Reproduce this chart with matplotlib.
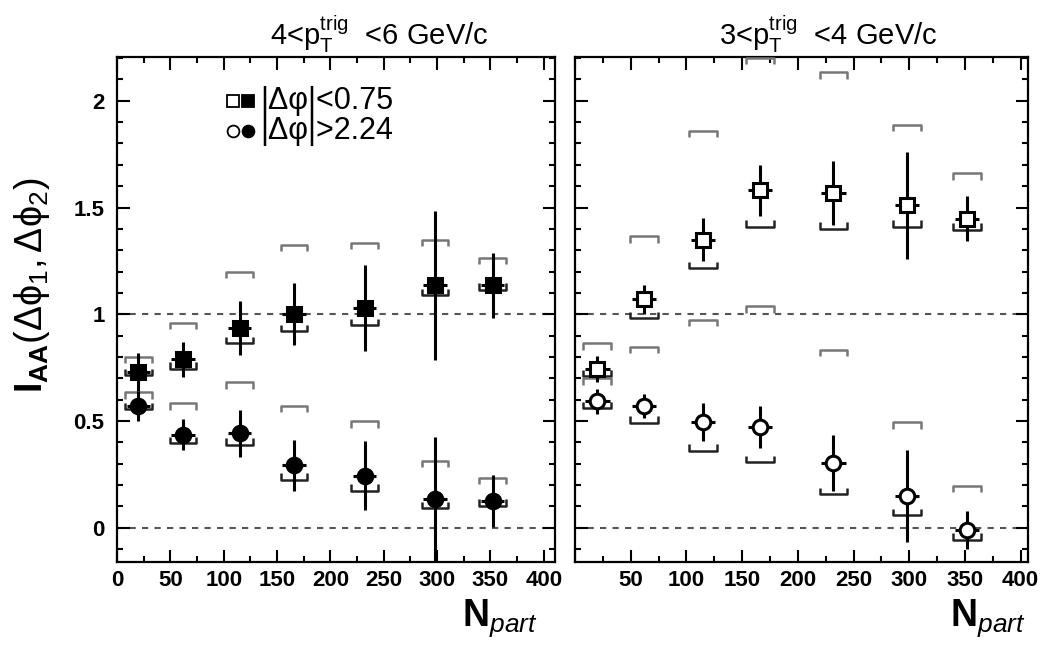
import matplotlib
matplotlib.use("Agg")
import matplotlib.pyplot as plt
from matplotlib.ticker import MultipleLocator

plt.rcParams['font.family'] = ['Liberation Sans', 'DejaVu Sans']
plt.rcParams['mathtext.fontset'] = 'custom'
plt.rcParams['mathtext.rm'] = 'Liberation Sans'
plt.rcParams['mathtext.it'] = 'Liberation Sans:italic'
plt.rcParams['mathtext.bf'] = 'Liberation Sans:bold'

# ---------------- data ----------------
npart = [20, 62, 115, 166, 232, 298, 352]

# left panel: 4 < pT_trig < 6 GeV/c (filled markers)
L_near_y = [0.73, 0.79, 0.935, 1.00, 1.03, 1.135, 1.135]
L_near_stat = [0.09, 0.082, 0.125, 0.145, 0.20, 0.35, 0.15]
L_near_sys_lo = [0.715, 0.745, 0.865, 0.92, 0.95, 1.09, 1.115]
L_near_sys_hi = [0.80, 0.96, 1.20, 1.325, 1.335, 1.35, 1.265]
L_away_y = [0.57, 0.436, 0.443, 0.292, 0.245, 0.134, 0.126]
L_away_stat = [0.07, 0.072, 0.11, 0.12, 0.16, 0.29, 0.12]
L_away_sys_lo = [0.555, 0.397, 0.389, 0.225, 0.173, 0.092, 0.103]
L_away_sys_hi = [0.635, 0.584, 0.682, 0.571, 0.498, 0.315, 0.233]

# right panel: 3 < pT_trig < 4 GeV/c (open markers)
R_near_y = [0.745, 1.07, 1.35, 1.58, 1.568, 1.51, 1.447]
R_near_stat = [0.06, 0.067, 0.10, 0.12, 0.15, 0.25, 0.105]
R_near_sys_lo = [0.71, 0.982, 1.216, 1.411, 1.40, 1.411, 1.396]
R_near_sys_hi = [0.865, 1.365, 1.859, 2.20, 2.133, 1.888, 1.661]
R_away_y = [0.592, 0.571, 0.495, 0.472, 0.303, 0.151, -0.009]
R_away_stat = [0.06, 0.055, 0.09, 0.10, 0.13, 0.215, 0.09]
R_away_sys_lo = [0.561, 0.493, 0.362, 0.306, 0.158, 0.058, -0.056]
R_away_sys_hi = [0.70, 0.849, 0.974, 1.037, 0.834, 0.495, 0.198]

x_ticks = [0, 50, 100, 150, 200, 250, 300, 350, 400]
x_labels_left = ['0', '50', '100', '150', '200', '250', '300', '350', '400']
x_labels_right = ['', '50', '100', '150', '200', '250', '300', '350', '400']
y_ticks = [0, 0.5, 1, 1.5, 2]
y_labels = ['0', '0.5', '1', '1.5', '2']
titles = [r'4<p$_{\mathrm{T}}^{\mathrm{trig}}$  <6 GeV/c',
          r'3<p$_{\mathrm{T}}^{\mathrm{trig}}$  <4 GeV/c']
legend_labels = ['|\u0394\u03c6|<0.75', '|\u0394\u03c6|>2.24']

# ---------------- drawing ----------------
W, H = 1050, 652
fig = plt.figure(figsize=(W / 100, H / 100), dpi=100)
ax1 = fig.add_axes([117 / W, 90 / H, 438 / W, 505 / H])
ax2 = fig.add_axes([575 / W, 90 / H, 453 / W, 505 / H])

tickfont = dict(family=['Liberation Sans Narrow', 'Liberation Sans', 'DejaVu Sans'],
                weight='bold', size=16)

BW = 12.5   # bracket half width (Npart units)
BH = 0.03   # bracket end tick height


def bracket(ax, x, y, up, color, lw=1.8):
    h = BH if up else -BH
    ax.plot([x - BW, x - BW, x + BW, x + BW], [y + h, y, y, y + h],
            color=color, lw=lw, solid_capstyle='butt', zorder=3)


def draw_series(ax, y, stat, lo, hi, marker, filled):
    for xi, l, u in zip(npart, lo, hi):
        bracket(ax, xi, l, True, '#222222')
        bracket(ax, xi, u, False, '#777777')
    ax.errorbar(npart, y, yerr=stat, xerr=11, fmt='none', ecolor='black',
                elinewidth=2.2, capsize=0, zorder=4)
    ax.plot(npart, y, linestyle='none', marker=marker, markersize=10.5,
            markerfacecolor='black' if filled else 'white',
            markeredgecolor='black', markeredgewidth=2.2, zorder=5)


for ax, xmax, xl in [(ax1, 410.5, x_labels_left), (ax2, 406.6, x_labels_right)]:
    ax.set_xlim(0, xmax)
    ax.set_ylim(-0.16, 2.205)
    for yv in (0, 1):
        ax.axhline(yv, color='#555555', lw=1.5, ls=(0, (3, 3)), zorder=1)
    ax.set_xticks(x_ticks)
    ax.set_xticklabels(xl, **tickfont)
    ax.xaxis.set_minor_locator(MultipleLocator(25))
    ax.yaxis.set_minor_locator(MultipleLocator(0.1))
    ax.set_yticks(y_ticks)
    ax.tick_params(which='both', direction='in', top=True, right=True, width=1.5)
    ax.tick_params(which='major', length=9)
    ax.tick_params(which='minor', length=4.5)
    ax.tick_params(axis='x', pad=6)
    ax.tick_params(axis='y', pad=9)
    for s in ax.spines.values():
        s.set_linewidth(1.6)

ax1.set_yticklabels(y_labels, **tickfont)
ax2.set_yticklabels([])

draw_series(ax1, L_near_y, L_near_stat, L_near_sys_lo, L_near_sys_hi, 's', True)
draw_series(ax1, L_away_y, L_away_stat, L_away_sys_lo, L_away_sys_hi, 'o', True)
draw_series(ax2, R_near_y, R_near_stat, R_near_sys_lo, R_near_sys_hi, 's', False)
draw_series(ax2, R_away_y, R_away_stat, R_away_sys_lo, R_away_sys_hi, 'o', False)

# titles
fig.text(379 / W, 1 - 34 / H, titles[0], ha='center', va='center', fontsize=21)
fig.text(828 / W, 1 - 34 / H, titles[1], ha='center', va='center', fontsize=21)

# legend (inside left panel)
for yy, mk, lab in [(0.913, 's', legend_labels[0]), (0.853, 'o', legend_labels[1])]:
    ax1.plot([0.265], [yy], transform=ax1.transAxes, marker=mk, markersize=8.5,
             markerfacecolor='white', markeredgecolor='black', markeredgewidth=1.3,
             linestyle='none', clip_on=False)
    ax1.plot([0.299], [yy], transform=ax1.transAxes, marker=mk, markersize=8.5,
             markerfacecolor='black', markeredgecolor='black', markeredgewidth=1.3,
             linestyle='none', clip_on=False)
    ax1.text(0.327, yy, lab, transform=ax1.transAxes, ha='left', va='center',
             fontsize=22)

# axis labels
fig.text(32 / W, 1 - 285 / H,
         r'$\mathbf{I}_{\mathbf{AA}}(\Delta\mathrm{\phi}_1,\Delta\mathrm{\phi}_2)$',
         rotation=90, ha='center', va='center', fontsize=27)
fig.text(500 / W, 1 - 626 / H, r'$\mathbf{N}_{\mathit{part}}$', ha='center',
         va='baseline', fontsize=27)
fig.text(988 / W, 1 - 626 / H, r'$\mathbf{N}_{\mathit{part}}$', ha='center',
         va='baseline', fontsize=27)

fig.savefig('out.png', dpi=100)
